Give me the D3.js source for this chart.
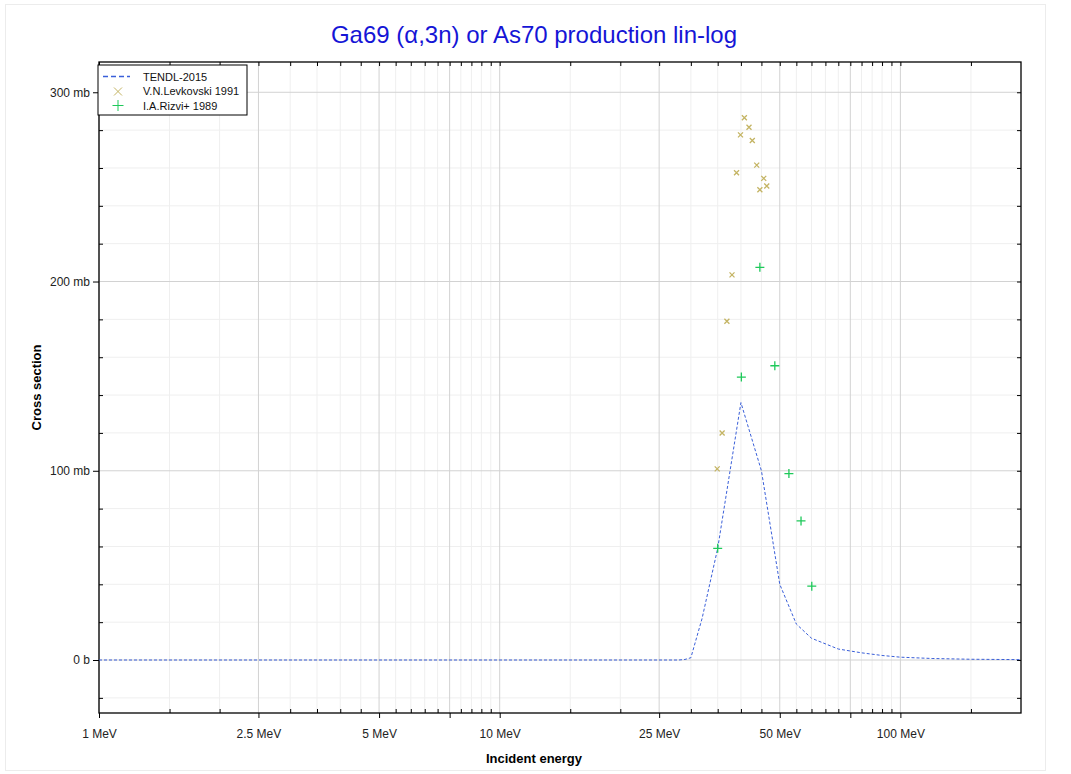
<!DOCTYPE html>
<html>
<head>
<meta charset="utf-8">
<script src="https://cdn.jsdelivr.net/npm/d3@7"></script>
<style>
  body { margin: 0; background: #fff; }
  svg { font-family: "Liberation Sans", Arial, sans-serif; }
</style>
</head>
<body>
<svg width="1071" height="774"></svg>
<script>
// TENDL-2015 evaluated curve, energy in MeV, cross section in mb
var tendlE =   [1, 28, 29, 30, 32, 35, 40, 45, 50, 55, 60, 70, 80, 90, 100, 120, 150, 200];
var tendlXS =  [0, 0, 0.3, 1.2, 22, 59, 136, 100, 40, 19, 11.5, 5.8, 3.8, 2.4, 1.5, 0.8, 0.4, 0.2];

// V.N.Levkovski 1991
var levkE =  [34.9, 35.9, 36.9, 38.0, 39.0, 39.9, 40.8, 41.9, 42.7, 43.8, 44.6, 45.6, 46.4];
var levkXS = [101, 120, 179, 203.5, 257.5, 277.5, 286.5, 281.5, 274.5, 261.5, 248.5, 254.5, 250.5];

// I.A.Rizvi+ 1989
var rizviE =  [35.0, 40.1, 44.6, 48.6, 52.7, 56.5, 60.1];
var rizviXS = [59, 149.5, 207.5, 155.5, 98.5, 73.5, 39];

// ticks
var xMajor = [1, 2.5, 5, 7.5, 10, 25, 50, 75, 100];
var xLabeled = [1, 2.5, 5, 10, 25, 50, 100];
var xMinor = [1.5, 2, 3, 3.5, 4, 4.5, 5.5, 6, 6.5, 7, 8, 8.5, 9, 9.5,
              15, 20, 30, 35, 40, 45, 55, 60, 65, 70, 80, 85, 90, 95, 150];
var yMajor = [0, 100, 200, 300];
var yMinor = [-20, 20, 40, 60, 80, 120, 140, 160, 180, 220, 240, 260, 280];

var svg = d3.select("svg");

var margin = { top: 62, right: 50, bottom: 61, left: 99 };
var width = 1071 - margin.left - margin.right;
var height = 774 - margin.top - margin.bottom;

var x = d3.scaleLog().domain([1, 200]).range([0, width]);
var y = d3.scaleLinear().domain([-28, 316]).range([height, 0]);

var blue = "#3a5fd9";
var olive = "#c4b463";
var green = "#1ec95a";

// faint outer border of the chart box
svg.append("rect")
  .attr("x", 5.5).attr("y", 4.5)
  .attr("width", 1040).attr("height", 766)
  .attr("fill", "none").attr("stroke", "#ececec");

var plot = svg.append("g")
  .attr("transform", "translate(" + margin.left + "," + margin.top + ")");

// grid lines, minor first so majors sit on top
plot.append("g").selectAll("line").data(xMinor).enter().append("line")
  .attr("x1", d => x(d)).attr("x2", d => x(d))
  .attr("y1", 0).attr("y2", height)
  .attr("stroke", "#efefef");
plot.append("g").selectAll("line").data(yMinor).enter().append("line")
  .attr("y1", d => y(d)).attr("y2", d => y(d))
  .attr("x1", 0).attr("x2", width)
  .attr("stroke", "#efefef");
plot.append("g").selectAll("line").data(xMajor).enter().append("line")
  .attr("x1", d => x(d)).attr("x2", d => x(d))
  .attr("y1", 0).attr("y2", height)
  .attr("stroke", "#d2d2d2");
plot.append("g").selectAll("line").data(yMajor).enter().append("line")
  .attr("y1", d => y(d)).attr("y2", d => y(d))
  .attr("x1", 0).attr("x2", width)
  .attr("stroke", "#d2d2d2");

// axes: majors point outward, minors point inward
var xAxis = d3.axisBottom(x).tickValues(xMajor).tickSize(5).tickSizeOuter(0)
  .tickFormat(d => xLabeled.indexOf(d) >= 0 ? d + " MeV" : "");
var xGroup = plot.append("g").attr("transform", "translate(0," + height + ")").call(xAxis);
xGroup.selectAll("text").attr("font-size", 12).attr("fill", "#222").attr("dy", "1.45em");
xGroup.select(".domain").remove();

var xMinorAxis = d3.axisTop(x).tickValues(xMinor).tickSize(4).tickFormat("").tickSizeOuter(0);
plot.append("g").attr("transform", "translate(0," + height + ")").call(xMinorAxis)
  .select(".domain").remove();
plot.append("g").call(d3.axisBottom(x).tickValues(xMinor.concat(xMajor)).tickSize(4).tickFormat(""))
  .select(".domain").remove();

var yAxis = d3.axisLeft(y).tickValues(yMajor).tickSize(6).tickSizeOuter(0)
  .tickFormat(d => d == 0 ? "0 b" : d + " mb");
var yGroup = plot.append("g").call(yAxis);
yGroup.selectAll("text").attr("font-size", 12).attr("fill", "#222");
yGroup.select(".domain").remove();

plot.append("g").call(d3.axisRight(y).tickValues(yMinor).tickSize(4).tickFormat(""))
  .select(".domain").remove();
plot.append("g").attr("transform", "translate(" + width + ",0)")
  .call(d3.axisLeft(y).tickValues(yMinor.concat(yMajor)).tickSize(4).tickFormat(""))
  .select(".domain").remove();

// frame
plot.append("rect")
  .attr("width", width).attr("height", height)
  .attr("fill", "none").attr("stroke", "#000").attr("stroke-width", 1.3);

// TENDL curve
var tendl = tendlE.map((e, i) => [e, tendlXS[i]]);
var line = d3.line().x(d => x(d[0])).y(d => y(d[1]));
plot.append("path")
  .datum(tendl)
  .attr("d", line)
  .attr("fill", "none")
  .attr("stroke", blue)
  .attr("stroke-width", 1)
  .attr("stroke-dasharray", "3,2");

// experimental points
var drawCross = function(g, cx, cy, r, color, w) {
  g.append("path")
    .attr("d", "M" + (cx - r) + "," + (cy - r) + "L" + (cx + r) + "," + (cy + r) +
               "M" + (cx - r) + "," + (cy + r) + "L" + (cx + r) + "," + (cy - r))
    .attr("stroke", color).attr("stroke-width", w).attr("fill", "none");
};
var drawPlus = function(g, cx, cy, r, color, w) {
  g.append("path")
    .attr("d", "M" + (cx - r) + "," + cy + "L" + (cx + r) + "," + cy +
               "M" + cx + "," + (cy - r) + "L" + cx + "," + (cy + r))
    .attr("stroke", color).attr("stroke-width", w).attr("fill", "none");
};

var pts = plot.append("g");
levkE.forEach(function(e, i) {
  drawCross(pts, x(e), y(levkXS[i]), 2.5, olive, 1.3);
});
rizviE.forEach(function(e, i) {
  drawPlus(pts, x(e), y(rizviXS[i]), 4.5, green, 1.3);
});

// legend
var legend = svg.append("g").attr("transform", "translate(98,65)");
legend.append("rect")
  .attr("width", 149).attr("height", 50)
  .attr("fill", "#fff").attr("stroke", "#000").attr("stroke-width", 1);
legend.append("line")
  .attr("x1", 5).attr("x2", 32).attr("y1", 11.5).attr("y2", 11.5)
  .attr("stroke", blue).attr("stroke-width", 1.5).attr("stroke-dasharray", "5,3");
drawCross(legend, 20, 26.5, 4, olive, 1);
drawPlus(legend, 20, 40.5, 5.5, green, 1);
var legendText = ["TENDL-2015", "V.N.Levkovski 1991", "I.A.Rizvi+ 1989"];
legend.selectAll("text.lbl").data(legendText).enter().append("text")
  .attr("x", 45)
  .attr("y", (d, i) => 15.5 + i * 14.5)
  .attr("font-size", 11)
  .attr("fill", "#111")
  .text(d => d);

// titles
svg.append("text")
  .attr("x", 534).attr("y", 43)
  .attr("text-anchor", "middle")
  .attr("font-size", 24)
  .attr("fill", "#1515d6")
  .text("Ga69 (α,3n) or As70 production lin-log");

svg.append("text")
  .attr("x", 534).attr("y", 763)
  .attr("text-anchor", "middle")
  .attr("font-size", 13)
  .attr("font-weight", "bold")
  .text("Incident energy");

svg.append("text")
  .attr("transform", "translate(41," + (margin.top + height / 2) + ") rotate(-90)")
  .attr("text-anchor", "middle")
  .attr("font-size", 13)
  .attr("font-weight", "bold")
  .text("Cross section");
</script>
</body>
</html>
